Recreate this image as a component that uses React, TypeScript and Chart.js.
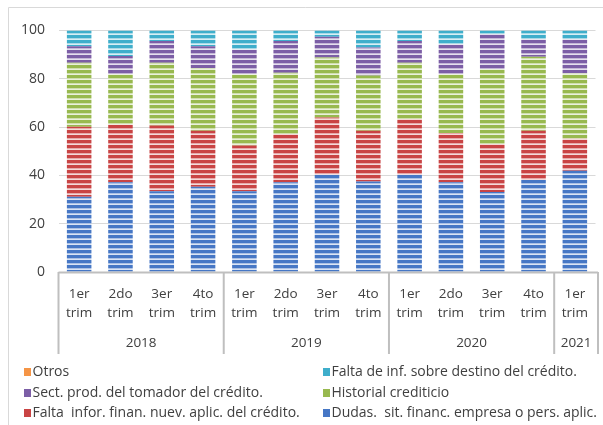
import React, { useEffect, useRef } from "react";
import { Chart, registerables } from "chart.js";

Chart.register(...registerables);

const quarterLabels: string[][] = [
  ["1er", "trim"], ["2do", "trim"], ["3er", "trim"], ["4to", "trim"],
  ["1er", "trim"], ["2do", "trim"], ["3er", "trim"], ["4to", "trim"],
  ["1er", "trim"], ["2do", "trim"], ["3er", "trim"], ["4to", "trim"],
  ["1er", "trim"],
];
const years = ["2018", "2019", "2020", "2021"];
const yearCounts = [4, 4, 4, 1];

const dudas = [31.2, 37.2, 33.4, 35.3, 33.4, 37.2, 40.3, 37.5, 40.3, 37.2, 33.1, 38.1, 41.9];
const faltaInfor = [28.9, 23.8, 27.3, 23.2, 19.0, 19.9, 23.7, 21.0, 23.1, 20.4, 19.9, 20.4, 13.3];
const historial = [26.5, 20.9, 25.9, 25.9, 29.5, 25.4, 24.8, 22.9, 23.2, 24.3, 31.1, 30.6, 27.0];
const sectProd = [6.9, 7.5, 9.1, 9.1, 10.2, 13.2, 8.6, 11.6, 9.1, 12.4, 14.5, 7.3, 14.2];
const faltaDestino = [6.5, 10.6, 4.3, 6.5, 7.9, 4.3, 2.6, 7.0, 4.3, 5.7, 1.4, 3.6, 3.6];
const otros = [0, 0, 0, 0, 0, 0, 0, 0, 0, 0, 0, 0, 0];

const seriesNames = [
  "Dudas.  sit. financ. empresa o pers. aplic.",
  "Falta  infor. finan. nuev. aplic. del crédito.",
  "Historial crediticio",
  "Sect. prod. del tomador del crédito.",
  "Falta de inf. sobre destino del crédito.",
  "Otros",
];
const seriesColors = ["#4677C5", "#C94444", "#98B94F", "#7C5EA6", "#3FAECB", "#F59546"];
// legend layout: order as in reference (row-major, two columns)
const legendOrder = [5, 4, 3, 2, 1, 0];

const FONT = "'Open Sans', Lato, sans-serif";
const TEXT = "#404040";

function makePattern(color: string): CanvasPattern | string {
  const c = document.createElement("canvas");
  c.width = 4;
  c.height = 5;
  const g = c.getContext("2d");
  if (!g) return color;
  g.fillStyle = color;
  g.fillRect(0, 0, 4, 5);
  g.fillStyle = "rgba(255,255,255,0.55)";
  g.fillRect(0, 3, 4, 1);
  g.fillStyle = "rgba(255,255,255,0.8)";
  g.fillRect(0, 4, 4, 1);
  const p = g.createPattern(c, "repeat");
  return p || color;
}

const decorPlugin = {
  id: "decor",
  afterDraw(chart: any) {
    const ctx = chart.ctx as CanvasRenderingContext2D;
    const x = chart.scales.x;
    const area = chart.chartArea;
    ctx.save();
    // outer frame
    ctx.strokeStyle = "#d9d9d9";
    ctx.lineWidth = 1;
    ctx.beginPath();
    ctx.moveTo(8.5, 425);
    ctx.lineTo(8.5, 7.5);
    ctx.lineTo(603, 7.5);
    ctx.stroke();

    const axisY = area.bottom;
    const sepBottom = 354;
    const rightEdge = area.right + 2.5;
    ctx.strokeStyle = "#bfbfbf";
    ctx.lineWidth = 2;
    ctx.beginPath();
    ctx.moveTo(area.left, axisY + 0.5);
    ctx.lineTo(rightEdge, axisY + 0.5);
    ctx.stroke();

    // group separators
    const bounds: number[] = [area.left];
    let idx = 0;
    yearCounts.forEach((n, gi) => {
      idx += n;
      if (gi < yearCounts.length - 1) {
        bounds.push((x.getPixelForValue(idx - 1) + x.getPixelForValue(idx)) / 2);
      }
    });
    bounds.push(rightEdge);
    ctx.beginPath();
    bounds.forEach((bx) => {
      ctx.moveTo(bx, axisY);
      ctx.lineTo(bx, sepBottom);
    });
    ctx.stroke();

    // quarter labels
    ctx.fillStyle = TEXT;
    ctx.font = `13.5px ${FONT}`;
    ctx.textAlign = "center";
    ctx.textBaseline = "middle";
    quarterLabels.forEach((lines, i) => {
      const cx = x.getPixelForValue(i);
      ctx.fillText(lines[0], cx, 294);
      ctx.fillText(lines[1], cx, 313);
    });
    // year labels
    years.forEach((yr, gi) => {
      const cx = (bounds[gi] + bounds[gi + 1]) / 2;
      ctx.fillText(yr, cx, 343);
    });

    // legend
    ctx.font = `14px ${FONT}`;
    ctx.textAlign = "left";
    const colX = [24, 323];
    const rowY = [372, 393, 413];
    legendOrder.forEach((si, k) => {
      const col = k % 2;
      const row = Math.floor(k / 2);
      const bx = colX[col];
      const by = rowY[row];
      ctx.fillStyle = seriesColors[si];
      ctx.fillRect(bx, by - 4, 7, 8);
      ctx.fillStyle = TEXT;
      ctx.fillText(seriesNames[si], bx + 8.5, by);
    });
    ctx.restore();
  },
};

export default function App() {
  const ref = useRef<HTMLCanvasElement>(null);
  useEffect(() => {
    if (!ref.current) return;
    const seriesData = [dudas, faltaInfor, historial, sectProd, faltaDestino, otros];
    const chart = new Chart(ref.current, {
      type: "bar",
      data: {
        labels: quarterLabels.map((l) => l.join(" ")),
        datasets: seriesData.map((d, i) => ({
          label: seriesNames[i],
          data: d,
          backgroundColor: makePattern(seriesColors[i]) as any,
          borderWidth: 0,
          barPercentage: 0.594,
          categoryPercentage: 1,
        })),
      },
      options: {
        responsive: false,
        animation: false,
        devicePixelRatio: 1,
        layout: { padding: { top: 30.5, right: 7.5, bottom: 153, left: 0 } },
        plugins: { legend: { display: false }, tooltip: { enabled: false } },
        scales: {
          x: { stacked: true, display: false },
          y: {
            stacked: true,
            min: 0,
            max: 100,
            afterFit: (s: any) => {
              s.width = 58.5;
            },
            border: { display: false },
            grid: { color: "#d9d9d9", lineWidth: 1, drawTicks: false },
            ticks: {
              stepSize: 20,
              padding: 13.5,
              color: TEXT,
              font: { family: FONT, size: 14 },
            },
          },
        },
      },
      plugins: [decorPlugin],
    });
    return () => chart.destroy();
  }, []);
  return (
    <div style={{ position: "absolute", left: 0, top: 0, width: 603, height: 425, background: "#fff" }}>
      <canvas ref={ref} width={603} height={425} style={{ display: "block" }} />
    </div>
  );
}
